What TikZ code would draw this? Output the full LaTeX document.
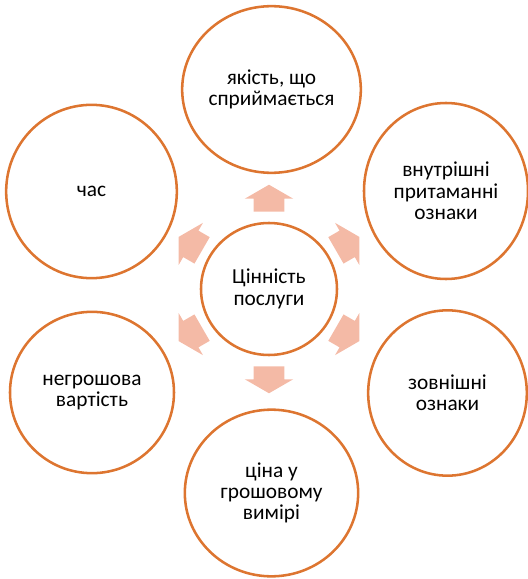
\documentclass[tikz,border=0pt]{standalone}
\usepackage{fontspec}
\setmainfont{Carlito}
\usetikzlibrary{shapes.geometric,shapes.arrows}
\definecolor{ringc}{RGB}{221,117,48}
\definecolor{arrc}{RGB}{244,186,166}

\begin{document}
\begin{tikzpicture}[x=0.75pt,y=0.75pt,
        every node/.style={font=\fontsize{16}{16}\selectfont, align=center},
        ring/.style={ellipse, draw=ringc, line width=1.9pt, inner sep=0pt},
        blockarr/.style={single arrow, fill=arrc, inner xsep=0pt, inner ysep=11.25pt,
            minimum height=20.25pt, single arrow head extend=6.75pt,
            single arrow tip angle=120, anchor=tail}]
        \useasboundingbox (-269,-290) rectangle (259,289);
        % center
        \node[ring, minimum width=102pt, minimum height=99pt] (val) at (0,0) {Цінність\\послуги};
        % outer rings
        \node[ring, minimum width=134pt, minimum height=125pt] (qual) at (2.5,199.5) {якість, що\\сприймається};
        \node[ring, minimum width=123pt, minimum height=132pt] (inner) at (177,98) {внутрішні\\притаманні\\ознаки};
        \node[ring, minimum width=119pt, minimum height=124pt] (outer) at (178.5,-104) {зовнішні\\ознаки};
        \node[ring, minimum width=130pt, minimum height=125pt] (price) at (2.5,-204) {ціна у\\грошовому\\вимірі};
        \node[ring, minimum width=123pt, minimum height=121pt] (nonmon) at (-177,-103.5) {негрошова\\вартість};
        \node[ring, minimum width=128pt, minimum height=130pt] (time) at (-177.5,97.5) {час};
        % arrows
        \foreach \a [count=\i] in {90,30,-30,-90,-150,150}
            \node[blockarr, rotate=\a] (arr\i) at (\a:77) {};
\end{tikzpicture}
\end{document}
